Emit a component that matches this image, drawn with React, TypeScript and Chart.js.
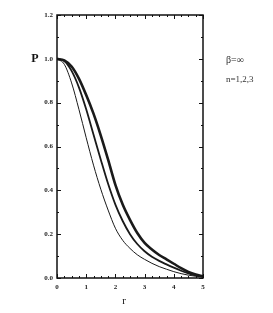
import { useEffect, useRef } from "react";
import { Chart, registerables } from "chart.js";
Chart.register(...registerables);

const rValues = [0, 0.25, 0.5, 0.75, 1, 1.25, 1.5, 1.75, 2, 2.25, 2.5, 2.75, 3, 3.25, 3.5, 3.75, 4, 4.25, 4.5, 4.75, 5];
const pN1 = [1.0, 0.975, 0.89, 0.77, 0.64, 0.515, 0.405, 0.31, 0.227, 0.172, 0.135, 0.106, 0.085, 0.067, 0.052, 0.04, 0.029, 0.02, 0.013, 0.008, 0.005];
const pN2 = [1.0, 0.99, 0.945, 0.87, 0.77, 0.655, 0.54, 0.43, 0.335, 0.26, 0.2, 0.155, 0.122, 0.097, 0.078, 0.062, 0.047, 0.033, 0.021, 0.012, 0.007];
const pN3 = [1.0, 0.993, 0.965, 0.91, 0.835, 0.75, 0.65, 0.54, 0.425, 0.335, 0.265, 0.205, 0.16, 0.13, 0.105, 0.085, 0.065, 0.045, 0.028, 0.016, 0.008];
const yTicks = [0, 0.2, 0.4, 0.6, 0.8, 1.0, 1.2];
const xTicks = [0, 1, 2, 3, 4, 5];
const axisTitleY = "P";
const axisTitleX = "r";
const noteLines = ["β=∞", "n=1,2,3"];

const toPts = (ys: number[]) => rValues.map((r, i) => ({ x: r, y: ys[i] }));

const framePlugin = {
  id: "frame",
  afterDraw(chart: any) {
    const { ctx, chartArea: a, scales } = chart;
    const xs = scales.x, ys = scales.y;
    ctx.save();
    ctx.strokeStyle = "#111";
    ctx.lineWidth = 1.5;
    ctx.strokeRect(a.left, a.top, a.right - a.left, a.bottom - a.top);
    ctx.lineWidth = 1;
    for (let v = 0; v <= 1.2001; v += 0.1) {
      const y = Math.round(ys.getPixelForValue(v)) + 0.5;
      const major = Math.abs(v * 5 - Math.round(v * 5)) < 1e-6;
      const len = major ? 4 : 2;
      ctx.beginPath();
      ctx.moveTo(a.left, y); ctx.lineTo(a.left + len, y);
      ctx.moveTo(a.right, y); ctx.lineTo(a.right - len, y);
      ctx.stroke();
    }
    for (let v = 0; v <= 5.0001; v += 0.25) {
      const x = Math.round(xs.getPixelForValue(v)) + 0.5;
      const major = Math.abs(v - Math.round(v)) < 1e-6;
      const len = major ? 4 : 2;
      ctx.beginPath();
      ctx.moveTo(x, a.bottom); ctx.lineTo(x, a.bottom - len);
      ctx.moveTo(x, a.top); ctx.lineTo(x, a.top + len);
      ctx.stroke();
    }
    ctx.fillStyle = "#111";
    ctx.textBaseline = "middle";
    ctx.textAlign = "center";
    ctx.font = "bold 12px 'Liberation Serif'";
    ctx.fillText(axisTitleY, 35, ys.getPixelForValue(1.0));
    ctx.font = "11px 'Liberation Serif'";
    ctx.fillText(axisTitleX, xs.getPixelForValue(2.3), 301);
    ctx.textAlign = "left";
    ctx.fillStyle = "#333";
    ctx.font = "10px 'Liberation Serif'";
    ctx.fillText(noteLines[0], 226, 60);
    ctx.font = "9px 'Liberation Serif'";
    ctx.fillText(noteLines[1], 226, 80);
    ctx.restore();
  },
};

export default function App() {
  const ref = useRef<HTMLCanvasElement>(null);
  useEffect(() => {
    document.body.style.margin = "0";
    const mk = (data: number[], w: number) => ({
      data: toPts(data),
      borderColor: "#1a1a1a",
      borderWidth: w,
      pointRadius: 0,
      fill: false,
      cubicInterpolationMode: "monotone" as const,
    });
    const tickFont = { size: 7, family: "'Liberation Serif'", weight: "bold" as const };
    const chart = new Chart(ref.current!, {
      type: "line",
      data: { datasets: [mk(pN1, 1), mk(pN2, 1.8), mk(pN3, 2.6)] },
      options: {
        animation: false,
        responsive: false,
        devicePixelRatio: 1,
        layout: { padding: { top: 15, right: 70, left: 0, bottom: 0 } },
        plugins: { legend: { display: false }, tooltip: { enabled: false } },
        scales: {
          x: {
            type: "linear",
            min: 0,
            max: 5,
            afterFit: (s: any) => { s.height = 35; },
            afterBuildTicks: (s: any) => { s.ticks = xTicks.map((v) => ({ value: v })); },
            grid: { display: false, drawTicks: false },
            border: { display: false },
            ticks: { color: "#222", font: tickFont, padding: 5, maxRotation: 0, callback: (v: any) => String(v) },
          },
          y: {
            type: "linear",
            min: 0,
            max: 1.2,
            afterFit: (s: any) => { s.width = 57; },
            afterBuildTicks: (s: any) => { s.ticks = yTicks.map((v) => ({ value: v })); },
            grid: { display: false, drawTicks: false },
            border: { display: false },
            ticks: { color: "#222", font: tickFont, padding: 4, callback: (v: any) => Number(v).toFixed(1) },
          },
        },
      },
      plugins: [framePlugin],
    });
    return () => chart.destroy();
  }, []);
  return (
    <div style={{ width: 273, height: 313, background: "#fff" }}>
      <canvas ref={ref} width={273} height={313} style={{ display: "block" }} />
    </div>
  );
}
